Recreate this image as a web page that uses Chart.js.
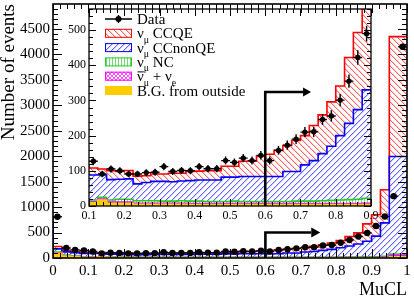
<!DOCTYPE html>
<html>
<head>
<meta charset="utf-8">
<script src="https://cdn.jsdelivr.net/npm/chart.js@4.4.0/dist/chart.umd.min.js"></script>
<style>
  html, body { margin: 0; padding: 0; background: #fff; }
  #wrap { position: relative; width: 414px; height: 299px; }
  #mainChart { position: absolute; left: 0; top: 0; }
  #insetChart { position: absolute; left: 60px; top: 0; }
</style>
</head>
<body>
<div id="wrap">
  <canvas id="mainChart" width="414" height="299"></canvas>
  <canvas id="insetChart" width="320" height="226"></canvas>
</div>
<script>
// MuCL histogram, 40 bins of 0.025 from 0 to 1
const binStart = 0;
const binWidth = 0.025;

const dataCounts = [810, 195, 160, 150, 127, 91, 105, 100, 91, 91, 95, 96, 112, 98, 101, 100, 112, 106, 106, 129,
  124, 136, 129, 144, 129, 158, 173, 190, 210, 211, 246, 256, 301, 355, 422, 490, 630, 815, 1215, 4150];

// MC components (not stacked)
const bgOutside = [125, 90, 40, 25, 8, 9, 17, 8, 8, 8, 5, 5, 5, 5, 5, 5, 4, 4, 4, 4,
  4, 4, 4, 4, 4, 4, 4, 4, 4, 4, 4, 4, 4, 4, 4, 4, 4, 5, 6, 20];
const nubarNue = [45, 10, 5, 5, 3, 3, 3, 3, 3, 3, 3, 3, 3, 3, 3, 3, 3, 3, 3, 3,
  3, 3, 3, 3, 3, 3, 3, 3, 3, 3, 3, 3, 3, 3, 3, 3, 4, 5, 9, 35];
const numuNC = [55, 15, 15, 10, 6, 5, 5, 6, 8, 8, 7, 7, 7, 6, 6, 7, 7, 7, 6, 6,
  6, 7, 6, 6, 6, 6, 6, 6, 7, 7, 7, 8, 9, 10, 11, 12, 14, 15, 20, 25];
const numuCCnonQE = [510, 65, 60, 65, 71, 71, 63, 58, 57, 58, 48, 52, 55, 56, 55, 56, 58, 60, 61, 61,
  69, 68, 71, 71, 71, 71, 71, 85, 84, 103, 115, 134, 154, 183, 217, 255, 308, 405, 655, 1914];
const numuCCQE = [55, 45, 30, 23, 27, 20, 17, 25, 22, 24, 22, 19, 21, 21, 24, 22, 26, 25, 26, 26,
  31, 31, 43, 43, 57, 63, 74, 74, 88, 83, 100, 110, 126, 141, 187, 219, 340, 420, 650, 2356];

const mainXTicks = [0, 0.1, 0.2, 0.3, 0.4, 0.5, 0.6, 0.7, 0.8, 0.9, 1];
const mainYTicks = [0, 500, 1000, 1500, 2000, 2500, 3000, 3500, 4000, 4500];
const insetXTicks = [0.1, 0.2, 0.3, 0.4, 0.5, 0.6, 0.7, 0.8, 0.9];
const insetYTicks = [0, 100, 200, 300, 400, 500];

// cut line and arrows
const muclCut = 0.6;
const mainArrow = { level: 500, tip: 0.755 };
const insetArrow = { level: 324, tip: 0.73 };

const legendRows = [
  { key: 'data', parts: [['Data']] },
  { key: 'ccqe', parts: [['ν'], ['μ', 'sub'], [' CCQE']] },
  { key: 'ccnonqe', parts: [['ν'], ['μ', 'sub'], [' CCnonQE']] },
  { key: 'nc', parts: [['ν'], ['μ', 'sub'], [' NC']] },
  { key: 'nubar', parts: [['ν', 'bar'], ['μ', 'sub'], [' + ν'], ['e', 'sub']] },
  { key: 'bg', parts: [['B.G. from outside']] }
];

const FONT = "'Liberation Serif', 'DejaVu Serif', serif";
Chart.defaults.font.family = FONT;
Chart.defaults.color = '#000';

function cumulate(parts) {
  return parts[0].map((_, i) => parts.reduce((s, p) => s + p[i], 0));
}
const stackBg = cumulate([bgOutside]);
const stackNubar = cumulate([bgOutside, nubarNue]);
const stackNC = cumulate([bgOutside, nubarNue, numuNC]);
const stackNonQE = cumulate([bgOutside, nubarNue, numuNC, numuCCnonQE]);
const stackTotal = cumulate([bgOutside, nubarNue, numuNC, numuCCnonQE, numuCCQE]);

function stepPoints(values) {
  const pts = values.map((v, i) => ({ x: binStart + i * binWidth, y: v }));
  pts.push({ x: binStart + values.length * binWidth, y: values[values.length - 1] });
  return pts;
}

// pixel hatch patterns like ROOT fill styles (two-pixel wide so the colour survives)
function makePattern(ctx, color, soft, kind) {
  const s = kind === 'vert' ? 3 : kind === 'cross' ? 4 : 6;
  const c = document.createElement('canvas');
  c.width = s; c.height = s;
  const g = c.getContext('2d');
  for (let i = 0; i < s; i++) {
    if (kind === 'back') {
      g.fillStyle = soft; g.fillRect((i + 1) % s, i, 1, 1);
      g.fillStyle = color; g.fillRect(i, i, 1, 1);
    } else if (kind === 'fwd') {
      g.fillStyle = soft; g.fillRect((i + 1) % s, s - 1 - i, 1, 1);
      g.fillStyle = color; g.fillRect(i, s - 1 - i, 1, 1);
    } else if (kind === 'vert') {
      g.fillStyle = color; g.fillRect(1, i, 1, 1);
    } else {
      g.fillStyle = color; g.fillRect(i, i, 1, 1); g.fillRect(i, s - 1 - i, 1, 1);
    }
  }
  return ctx.createPattern(c, 'repeat');
}

function makeStyles(ctx) {
  return {
    ccqe: { line: '#ff0000', fill: makePattern(ctx, '#ff6464', '#ffd0d0', 'back') },
    ccnonqe: { line: '#0000ff', fill: makePattern(ctx, '#6464ff', '#cdcdff', 'fwd') },
    nc: { line: '#22cc22', fill: makePattern(ctx, '#70dd70', null, 'vert') },
    nubar: { line: '#ff00ff', fill: makePattern(ctx, '#ff50ff', null, 'cross') },
    bg: { line: '#ffcc00', fill: '#ffcc00' }
  };
}

function buildDatasets(st, radius) {
  const hist = (values, s, fill, order) => ({
    type: 'line',
    data: stepPoints(values),
    stepped: 'after',
    borderColor: s.line,
    backgroundColor: s.fill,
    borderWidth: 1.6,
    pointRadius: 0,
    fill: fill,
    order: order
  });
  return [
    {
      type: 'scatter',
      label: 'Data',
      data: dataCounts.map((v, i) => ({ x: binStart + (i + 0.5) * binWidth, y: v })),
      pointRadius: radius,
      pointBackgroundColor: '#000',
      pointBorderColor: '#000',
      pointBorderWidth: 0,
      order: 0
    },
    hist(stackBg, st.bg, 'origin', 1),
    hist(stackNubar, st.nubar, '-1', 2),
    hist(stackNC, st.nc, '-1', 3),
    hist(stackNonQE, st.ccnonqe, '-1', 4),
    hist(stackTotal, st.ccqe, '-1', 5)
  ];
}

const errorBars = {
  id: 'errorBars',
  afterDatasetsDraw(chart, args, o) {
    const { ctx, chartArea: a, scales: { x, y } } = chart;
    ctx.save();
    ctx.beginPath();
    ctx.rect(a.left, a.top, a.right - a.left, a.bottom - a.top);
    ctx.clip();
    ctx.strokeStyle = '#000';
    ctx.lineWidth = o.lineWidth;
    ctx.beginPath();
    dataCounts.forEach((n, i) => {
      const err = Math.sqrt(n);
      const xc = x.getPixelForValue(binStart + (i + 0.5) * binWidth);
      const yc = y.getPixelForValue(n);
      ctx.moveTo(x.getPixelForValue(binStart + i * binWidth), yc);
      ctx.lineTo(x.getPixelForValue(binStart + (i + 1) * binWidth), yc);
      ctx.moveTo(xc, y.getPixelForValue(n + err));
      ctx.lineTo(xc, y.getPixelForValue(n - err));
    });
    ctx.stroke();
    ctx.restore();
  }
};

const cutArrow = {
  id: 'cutArrow',
  afterDatasetsDraw(chart, args, o) {
    const { ctx, chartArea: a, scales: { x, y } } = chart;
    const px = x.getPixelForValue(muclCut);
    const py = y.getPixelForValue(o.arrow.level);
    const tip = x.getPixelForValue(o.arrow.tip);
    ctx.save();
    ctx.strokeStyle = '#000';
    ctx.fillStyle = '#000';
    ctx.lineWidth = o.lineWidth;
    ctx.beginPath();
    ctx.moveTo(px, a.bottom);
    ctx.lineTo(px, py);
    ctx.lineTo(tip - o.head, py);
    ctx.stroke();
    ctx.beginPath();
    ctx.moveTo(tip, py);
    ctx.lineTo(tip - o.head, py - o.half);
    ctx.lineTo(tip - o.head, py + o.half);
    ctx.closePath();
    ctx.fill();
    ctx.restore();
  }
};

// frame with inward ticks on all four sides
const frameTicks = {
  id: 'frameTicks',
  afterDraw(chart, args, o) {
    const { ctx, chartArea: a, scales: { x, y } } = chart;
    ctx.save();
    ctx.strokeStyle = '#000';
    ctx.lineWidth = 1;
    ctx.beginPath();
    const nx = Math.round((x.max - x.min) / o.xMinor);
    for (let k = 0; k <= nx; k++) {
      const px = Math.round(x.getPixelForValue(x.min + k * o.xMinor)) + 0.5;
      const len = k % 5 === 0 ? o.major : o.minor;
      ctx.moveTo(px, a.bottom); ctx.lineTo(px, a.bottom - len);
      ctx.moveTo(px, a.top); ctx.lineTo(px, a.top + len);
    }
    const ny = Math.floor((y.max - y.min) / o.yMinor + 1e-6);
    for (let k = 0; k <= ny; k++) {
      const py = Math.round(y.getPixelForValue(y.min + k * o.yMinor)) + 0.5;
      const len = k % 5 === 0 ? o.major : o.minor;
      ctx.moveTo(a.left, py); ctx.lineTo(a.left + len, py);
      ctx.moveTo(a.right, py); ctx.lineTo(a.right - len, py);
    }
    ctx.stroke();
    ctx.lineWidth = o.frameWidth;
    ctx.strokeRect(a.left, a.top, a.right - a.left, a.bottom - a.top);
    ctx.restore();
  }
};

function drawParts(ctx, x, y, parts, size) {
  parts.forEach(([t, mode]) => {
    const fs = mode === 'sub' ? size * 0.66 : size;
    ctx.font = fs + 'px ' + FONT;
    const dy = mode === 'sub' ? size * 0.3 : 0;
    ctx.fillText(t, x, y + dy);
    const w = ctx.measureText(t).width;
    if (mode === 'bar') {
      ctx.beginPath();
      ctx.lineWidth = 1;
      ctx.moveTo(x + 0.5, y - size * 0.62);
      ctx.lineTo(x + w, y - size * 0.62);
      ctx.stroke();
    }
    x += w;
  });
}

const insetLegend = {
  id: 'insetLegend',
  afterDraw(chart, args, o) {
    const ctx = chart.ctx;
    const st = o.styles;
    ctx.save();
    ctx.fillStyle = '#000';
    ctx.strokeStyle = '#000';
    ctx.textBaseline = 'alphabetic';
    legendRows.forEach((row, i) => {
      const cy = o.top + i * o.step;
      if (row.key === 'data') {
        ctx.lineWidth = 1.3;
        ctx.beginPath();
        ctx.moveTo(o.left, cy); ctx.lineTo(o.left + o.boxW, cy);
        ctx.moveTo(o.left + o.boxW / 2, cy - 4); ctx.lineTo(o.left + o.boxW / 2, cy + 4);
        ctx.stroke();
        ctx.beginPath();
        ctx.arc(o.left + o.boxW / 2, cy, 3, 0, Math.PI * 2);
        ctx.fill();
      } else {
        const s = st[row.key];
        ctx.fillStyle = s.fill;
        ctx.fillRect(o.left, cy - o.boxH / 2, o.boxW, o.boxH);
        if (row.key !== 'bg') {
          ctx.strokeStyle = s.line;
          ctx.lineWidth = 1;
          ctx.strokeRect(o.left + 0.5, cy - o.boxH / 2 + 0.5, o.boxW - 1, o.boxH - 1);
        }
        ctx.fillStyle = '#000';
        ctx.strokeStyle = '#000';
      }
      drawParts(ctx, o.textX, cy + 5, row.parts, o.size);
    });
    ctx.restore();
  }
};

const fmtX = v => String(Math.round(v * 10) / 10);
const fixedTicks = list => s => { s.ticks = list.map(v => ({ value: v })); };

// main plot
const mainCanvas = document.getElementById('mainChart');
const mainStyles = makeStyles(mainCanvas.getContext('2d'));
new Chart(mainCanvas, {
  type: 'line',
  data: { datasets: buildDatasets(mainStyles, 3.2) },
  options: {
    responsive: false,
    animation: false,
    events: [],
    layout: { padding: { top: 4, right: 7, left: 0, bottom: 0 } },
    plugins: {
      legend: { display: false },
      tooltip: { enabled: false },
      errorBars: { lineWidth: 1.4 },
      cutArrow: { arrow: mainArrow, lineWidth: 2.6, head: 9, half: 5 },
      frameTicks: { xMinor: 0.02, yMinor: 100, major: 9, minor: 5, frameWidth: 1.6 }
    },
    scales: {
      x: {
        type: 'linear', min: 0, max: 1,
        grid: { display: false, drawTicks: false },
        border: { display: false },
        afterBuildTicks: fixedTicks(mainXTicks),
        ticks: { padding: 4, font: { size: 15 }, maxRotation: 0, autoSkip: false, callback: fmtX },
        title: { display: true, text: 'MuCL', align: 'end', font: { size: 18, lineHeight: 1 }, padding: { top: 0, bottom: 0 } },
        afterFit: s => { s.height = 41; s.paddingLeft = 0; s.paddingRight = 0; }
      },
      y: {
        min: 0, max: 4990,
        grid: { display: false, drawTicks: false },
        border: { display: false },
        afterBuildTicks: fixedTicks(mainYTicks),
        ticks: { padding: 3, font: { size: 15 }, autoSkip: false, callback: v => String(v) },
        title: { display: true, text: 'Number of events', align: 'end', font: { size: 19, lineHeight: 1 }, padding: { top: 0, bottom: 0 } },
        afterFit: s => { s.width = 53; s.paddingTop = 0; s.paddingBottom = 0; }
      }
    }
  },
  plugins: [errorBars, cutArrow, frameTicks]
});

// zoomed inset 0.1 - 0.9
const insetCanvas = document.getElementById('insetChart');
const insetStyles = makeStyles(insetCanvas.getContext('2d'));
new Chart(insetCanvas, {
  type: 'line',
  data: { datasets: buildDatasets(insetStyles, 2.7) },
  options: {
    responsive: false,
    animation: false,
    events: [],
    layout: { padding: { top: 9, right: 9, left: 0, bottom: 0 } },
    plugins: {
      legend: { display: false },
      tooltip: { enabled: false },
      errorBars: { lineWidth: 1.4 },
      cutArrow: { arrow: insetArrow, lineWidth: 2.6, head: 8, half: 4.5 },
      frameTicks: { xMinor: 0.02, yMinor: 20, major: 7, minor: 4, frameWidth: 1.3 },
      insetLegend: { styles: insetStyles, left: 45, top: 19, step: 14.3, boxW: 27, boxH: 9, textX: 77, size: 15 }
    },
    scales: {
      x: {
        type: 'linear', min: 0.1, max: 0.9,
        grid: { display: false, drawTicks: false },
        border: { display: false },
        afterBuildTicks: fixedTicks(insetXTicks),
        ticks: { padding: 3, font: { size: 12 }, maxRotation: 0, autoSkip: false, callback: fmtX },
        afterFit: s => { s.height = 20; s.paddingLeft = 0; s.paddingRight = 0; }
      },
      y: {
        min: 0, max: 560,
        grid: { display: false, drawTicks: false },
        border: { display: false },
        afterBuildTicks: fixedTicks(insetYTicks),
        ticks: { padding: 3, font: { size: 12 }, autoSkip: false, callback: v => String(v) },
        afterFit: s => { s.width = 29; s.paddingTop = 0; s.paddingBottom = 0; }
      }
    }
  },
  plugins: [errorBars, cutArrow, frameTicks, insetLegend]
});
</script>
</body>
</html>
